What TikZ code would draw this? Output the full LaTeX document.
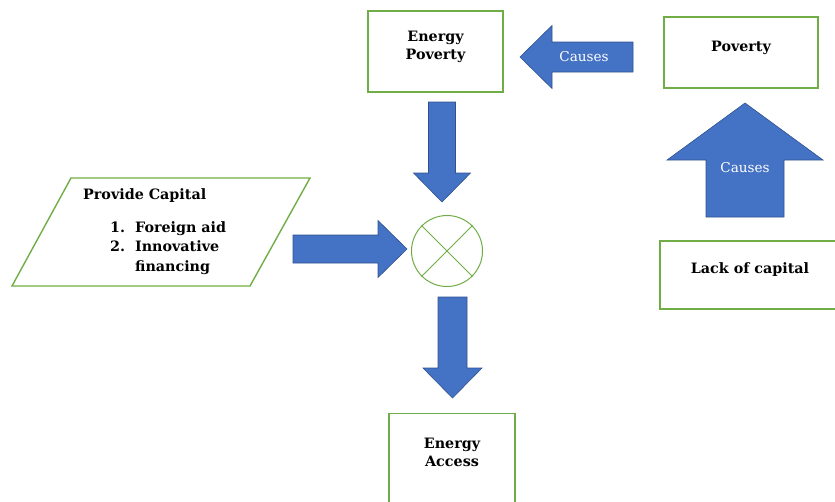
\documentclass[tikz,border=0pt]{standalone}
\usepackage{fontspec}
\setmainfont{DejaVu Serif}
\usetikzlibrary{calc}
\definecolor{boxgreen}{RGB}{112,173,71}
\definecolor{arrowblue}{RGB}{68,114,196}
\definecolor{arrowedge}{RGB}{47,82,143}
\newcommand\boxtextstyle{\bfseries\fontsize{14.3}{18}\selectfont}
\newcommand\listtextstyle{\bfseries\fontsize{14.3}{19.5}\selectfont}
\newcommand\arrowtextstyle{\fontsize{13.6}{15}\selectfont}
\newcommand\bigarrowstyle{[fill=arrowblue, draw=arrowedge, line width=.6pt, line join=miter]}
\newcommand\bigarrow[5]{
  \coordinate (neck) at ($(#2)!#5!(#1)$) ;
  \filldraw\bigarrowstyle ($(#1)!#3!90:(#2)$) -- ($(neck)!#3!90:(#2)$)
    -- ($(neck)!#4!90:(#2)$) -- (#2) -- ($(neck)!#4!-90:(#2)$)
    -- ($(neck)!#3!-90:(#2)$) -- ($(#1)!#3!-90:(#2)$) -- cycle ;
}
\tikzset{
  greenbox/.style={draw=boxgreen, line width=1.4pt, inner sep=0pt},
  boxtext/.style={font=\boxtextstyle, align=center, inner sep=0pt},
  arrowtext/.style={font=\arrowtextstyle, text=white, inner sep=0pt}
}

\begin{document}
\begin{tikzpicture}[x=1pt, y=-1pt]
    \useasboundingbox (0,0) rectangle (835,501) ;

    \node[greenbox, minimum width=135pt, minimum height=81pt] (enpov) at (435.5,51.5) {} ;
    \node[boxtext] (enpovtext) at (435.5,47) {Energy\\Poverty} ;
    \node[greenbox, minimum width=154pt, minimum height=71pt] (poverty) at (741,52.5) {} ;
    \node[boxtext] (povertytext) at (741,47.5) {Poverty} ;
    \node[greenbox, minimum width=180pt, minimum height=68pt] (lack) at (750,275) {} ;
    \node[boxtext] (lacktext) at (750,270) {Lack of capital} ;
    \node[greenbox, minimum width=126pt, minimum height=120pt, anchor=north] (access) at (452,413) {} ;
    \node[boxtext] (accesstext) at (452,452.5) {Energy\\Access} ;
    \node[draw=boxgreen, line width=1pt, circle, minimum size=71pt] (merge) at (447,251) {} ;
    \draw[boxgreen, line width=1pt] (merge.north west) -- (merge.south east) ;
    \draw[boxgreen, line width=1pt] (merge.north east) -- (merge.south west) ;

    \draw[boxgreen, line width=1.4pt, line join=miter] (12,286) -- (71,178) -- (310,178) -- (250,286) -- cycle ;
    \node[boxtext, anchor=base west] (capital) at (83,199) {Provide Capital} ;
    \node[boxtext, font=\listtextstyle, anchor=base west, align=left] (aidlist) at (110,232)
      {\begin{tabular}[t]{@{}l@{\hspace{10pt}}l@{}}1.&Foreign aid\\2.&Innovative\\&financing\end{tabular}} ;

    \coordinate (causetail) at (633,57) ;
    \coordinate (causetip) at (520,57) ;
    \bigarrow{causetail}{causetip}{15pt}{31.5pt}{32pt}
    \node[arrowtext] (causeone) at (584,57) {Causes} ;

    \coordinate (lacktail) at (745,217) ;
    \coordinate (lacktip) at (745,103) ;
    \bigarrow{lacktail}{lacktip}{39pt}{78pt}{57pt}
    \node[arrowtext] (causetwo) at (745,168) {Causes} ;

    \coordinate (enpovtail) at (442,102) ;
    \coordinate (enpovtip) at (442,202) ;
    \bigarrow{enpovtail}{enpovtip}{13.5pt}{28.5pt}{29pt}

    \coordinate (capitaltail) at (293,249) ;
    \coordinate (capitaltip) at (407,249) ;
    \bigarrow{capitaltail}{capitaltip}{14pt}{28.5pt}{29pt}

    \coordinate (mergetail) at (452.5,297) ;
    \coordinate (mergetip) at (452.5,398) ;
    \bigarrow{mergetail}{mergetip}{14.5pt}{29.5pt}{30pt}
\end{tikzpicture}
\end{document}
